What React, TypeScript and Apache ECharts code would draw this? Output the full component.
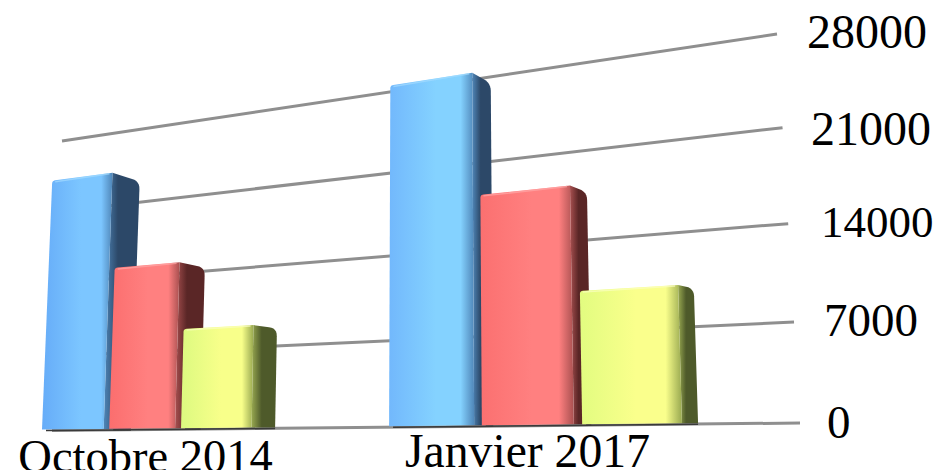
import React, { useEffect, useRef } from "react";
import * as echarts from "echarts";

const categories = ["Octobre 2014", "Janvier 2017"];
const seriesA = [23700, 28000];
const seriesB = [14700, 18000];
const seriesC = [8700, 9900];
const ticks = [0, 7000, 14000, 21000, 28000];

const tickLayout: Record<number, { x: number; nudge: number; size: number }> = {
  0: { x: 827, nudge: -1, size: 47 },
  7000: { x: 824, nudge: -6, size: 47 },
  14000: { x: 821, nudge: -6, size: 45 },
  21000: { x: 811, nudge: -2, size: 48 },
  28000: { x: 807, nudge: -2, size: 48 },
};
const catLayout = [{ dx: -34, nudge: 33, size: 46.5 }, { dx: -11, nudge: 27, size: 47.7 }];

const palette = [
  { front: [["#66acf8", "#7cc6ff"], ["#72b8fc", "#84d2ff"]], edge: "#4f86b8", side: "#2c4868", hi: "#a4dcff" },
  { front: [["#fb6e6e", "#ff8080"], ["#fb7070", "#ff8080"]], edge: "#a85050", side: "#5a2626", hi: "#ffa8a8" },
  { front: [["#dcfa80", "#f8ff8a"], ["#e2fc80", "#faff8c"]], edge: "#98a850", side: "#4e5a2a", hi: "#fbffc0" },
];

type P = [number, number];
function homography(p0: P, p1: P, p2: P, p3: P) {
  const dx1 = p1[0] - p2[0], dx2 = p3[0] - p2[0], sx = p0[0] - p1[0] + p2[0] - p3[0];
  const dy1 = p1[1] - p2[1], dy2 = p3[1] - p2[1], sy = p0[1] - p1[1] + p2[1] - p3[1];
  const den = dx1 * dy2 - dx2 * dy1;
  const g = (sx * dy2 - dx2 * sy) / den;
  const h = (dx1 * sy - sx * dy1) / den;
  const a = p1[0] - p0[0] + g * p1[0], b = p3[0] - p0[0] + h * p3[0], c = p0[0];
  const d = p1[1] - p0[1] + g * p1[1], e = p3[1] - p0[1] + h * p3[1], f = p0[1];
  return (u: number, v: number): P => {
    const w = g * u + h * v + 1;
    return [(a * u + b * v + c) / w, (d * u + e * v + f) / w];
  };
}

const wall = homography([52, 430.5], [800, 423], [777, 34], [62, 141]);
const frontPlane = homography([42, 429.5], [691, 423.2], [680, 41], [54, 137]);
const backPlane = homography([71, 429.5], [707, 423.2], [695, 51], [83, 147]);

const BAND_UNITS = 4.555;
const SPAN_UNITS = 7.555;
const FRONT_W = 0.92;

function rounded(pts: P[], radii: number[]): P[] {
  const out: P[] = [];
  const n = pts.length;
  pts.forEach((p, i) => {
    const r = radii[i];
    if (!r) { out.push(p); return; }
    const a = pts[(i + n - 1) % n], b = pts[(i + 1) % n];
    const la = Math.hypot(a[0] - p[0], a[1] - p[1]), lb = Math.hypot(b[0] - p[0], b[1] - p[1]);
    const s: P = [p[0] + (a[0] - p[0]) * r / la, p[1] + (a[1] - p[1]) * r / la];
    const t: P = [p[0] + (b[0] - p[0]) * r / lb, p[1] + (b[1] - p[1]) * r / lb];
    for (let k = 0; k <= 6; k++) {
      const q = k / 6;
      out.push([
        (1 - q) * (1 - q) * s[0] + 2 * q * (1 - q) * p[0] + q * q * t[0],
        (1 - q) * (1 - q) * s[1] + 2 * q * (1 - q) * p[1] + q * q * t[1],
      ]);
    }
  });
  return out;
}

const grad = (stops: [number, string][]) =>
  new echarts.graphic.LinearGradient(0, 0, 1, 0, stops.map(([offset, color]) => ({ offset, color })));

function barSeries(name: string, values: number[], idx: number) {
  return {
    type: "custom",
    name,
    silent: true,
    clip: false,
    data: values.map((v, i) => [i, v]),
    encode: { x: 0, y: 1 },
    renderItem: (params: any, api: any) => {
      const cat = api.value(0);
      const val = api.value(1);
      const c = params.coordSys;
      const [rx, ry] = api.coord([cat, val]);
      const bandPx = api.size([1, 0])[0];
      const unit = bandPx / BAND_UNITS;
      const leftPx = rx + (idx - 1.5) * unit;
      const origin = c.x + bandPx / 2 - 1.5 * unit;
      const u0 = (leftPx - origin) / unit / SPAN_UNITS;
      const u1 = u0 + FRONT_W / SPAN_UNITS;
      const v = (c.y + c.height - ry) / c.height;
      const FB0 = frontPlane(u0, 0), FB1 = frontPlane(u1, 0);
      const FT0 = frontPlane(u0, v), FT1 = frontPlane(u1, v);
      const BB = backPlane(u1, 0), BT = backPlane(u1, v);
      const col = palette[idx];
      const fc = col.front[cat];
      return {
        type: "group",
        children: [
          {
            type: "polygon",
            shape: { points: rounded([FT1, BT, BB, FB1], [0, 8, 0, 0]) },
            style: { fill: grad([[0, col.edge], [0.4, col.side], [1, col.side]]) },
          },
          {
            type: "polygon",
            shape: { points: rounded([FB0, FB1, FT1, FT0], [0, 0, 0, 3]) },
            style: {
              fill: grad([[0, fc[0]], [0.55, fc[1]], [0.84, fc[1]], [1, col.edge]]),
            },
          },
          {
            type: "line",
            shape: { x1: FT0[0] + 3, y1: FT0[1] + 1, x2: FT1[0] - 3, y2: FT1[1] + 1 },
            style: { stroke: col.hi, lineWidth: 1.5, opacity: 0.7 },
          },
          {
            type: "line",
            shape: { x1: FB0[0] + 4, y1: FB0[1] + 1, x2: BB[0], y2: BB[1] + 1 },
            style: { stroke: "#3a3a3a", lineWidth: 1.5 },
          },
        ],
      };
    },
  };
}

function gridSeries() {
  return {
    type: "custom",
    name: "grid",
    silent: true,
    clip: false,
    data: ticks.map((t) => [0, t]),
    encode: { x: 0, y: 1 },
    renderItem: (params: any, api: any) => {
      const c = params.coordSys;
      const ry = api.coord([0, api.value(1)])[1];
      const v = (c.y + c.height - ry) / c.height;
      const a = wall(0, v), b = wall(1, v);
      return {
        type: "line",
        shape: { x1: a[0], y1: a[1], x2: b[0], y2: b[1] },
        style: { stroke: "#8f8f8f", lineWidth: 3 },
      };
    },
  };
}

function tickLabelSeries() {
  return {
    type: "custom",
    name: "ticks",
    silent: true,
    clip: false,
    data: ticks.map((t) => [0, t]),
    encode: { x: 0, y: 1 },
    renderItem: (_: any, api: any) => {
      const t = api.value(1);
      const l = tickLayout[t];
      const ry = api.coord([0, t])[1];
      return {
        type: "text",
        style: {
          text: String(t), x: l.x, y: ry + l.nudge, fill: "#000",
          font: `${l.size}px "Liberation Serif"`, align: "left", verticalAlign: "middle",
        },
      };
    },
  };
}

function catLabelSeries() {
  return {
    type: "custom",
    name: "categories",
    silent: true,
    clip: false,
    data: categories.map((_, i) => [i, 0]),
    encode: { x: 0, y: 1 },
    renderItem: (_: any, api: any) => {
      const i = api.value(0);
      const [x, y] = api.coord([i, 0]);
      return {
        type: "text",
        style: {
          text: categories[i], x: x + catLayout[i].dx, y: y + catLayout[i].nudge, fill: "#000",
          font: `${catLayout[i].size}px "Liberation Serif"`, align: "center", verticalAlign: "middle",
        },
      };
    },
  };
}

export default function App() {
  const ref = useRef<HTMLDivElement>(null);
  useEffect(() => {
    document.body.style.margin = "0";
    const chart = echarts.init(ref.current!, null, { renderer: "svg" });
    chart.setOption({
      animation: false,
      backgroundColor: "#fff",
      grid: { left: 0, width: 718, top: 33, height: 390 },
      xAxis: { type: "category", data: categories, show: false },
      yAxis: { type: "value", min: 0, max: 28000, interval: 7000, show: false },
      series: [
        gridSeries(),
        barSeries("Série 1", seriesA, 0),
        barSeries("Série 2", seriesB, 1),
        barSeries("Série 3", seriesC, 2),
        tickLabelSeries(),
        catLabelSeries(),
      ],
    });
    return () => chart.dispose();
  }, []);
  return <div ref={ref} style={{ width: 936, height: 470, overflow: "hidden" }} />;
}
